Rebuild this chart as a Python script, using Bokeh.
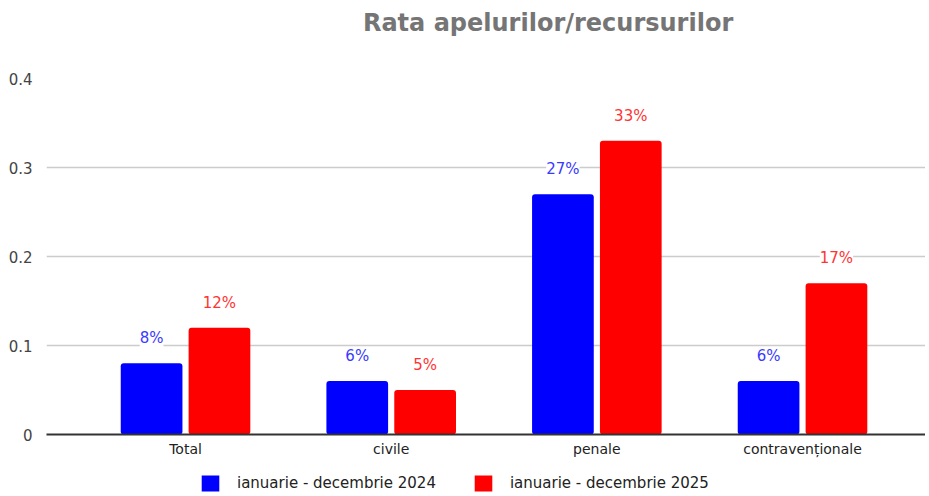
from bokeh.plotting import figure
from bokeh.models import (ColumnDataSource, Range1d, FixedTicker, LabelSet,
                          Label, Legend, LegendItem)
from bokeh.layouts import column
from bokeh.transform import dodge
from bokeh.core.properties import value
from bokeh.embed import file_html
from bokeh.resources import INLINE

title_text = "Rata apelurilor/recursurilor"
categories = ["Total", "civile", "penale", "contravenționale"]
series_names = ["ianuarie - decembrie 2024", "ianuarie - decembrie 2025"]
values_2024 = [0.08, 0.06, 0.27, 0.06]
values_2025 = [0.12, 0.05, 0.33, 0.17]
y_ticks = [0, 0.1, 0.2, 0.3, 0.4]

FONT = "DejaVu Sans"
BLUE, RED = "#0000ff", "#ff0000"
idx = [i + 0.5 for i in range(len(categories))]

src24 = ColumnDataSource(dict(x=idx, top=values_2024,
                              lbl=[f"{round(v*100)}%" for v in values_2024]))
src25 = ColumnDataSource(dict(x=idx, top=values_2025,
                              lbl=[f"{round(v*100)}%" for v in values_2025]))

def bare(fig):
    fig.min_border_left = fig.min_border_right = 0
    fig.min_border_top = fig.min_border_bottom = 0
    fig.outline_line_color = None
    fig.xgrid.grid_line_color = None
    fig.ygrid.grid_line_color = None
    return fig

# ---- header with title
head = bare(figure(width=925, height=44, output_backend="svg",
                   toolbar_location=None, x_axis_type=None, y_axis_type=None,
                   x_range=Range1d(0, 925), y_range=Range1d(0, 44)))
head.add_layout(Label(x=333, y=22, text=title_text, text_baseline="middle",
                      text_align="left", text_font=FONT,
                      text_font_size="24px", text_font_style="bold",
                      text_color="#757575"))

# ---- main chart
p = figure(frame_width=879, frame_height=356, output_backend="svg",
           toolbar_location=None,
           x_range=Range1d(-0.176, 4.098), y_range=Range1d(0, 0.4))
p.min_border_left = 46
p.min_border_right = 0
p.min_border_top = 34
p.min_border_bottom = 24
p.outline_line_color = None

r24 = p.vbar(x=dodge("x", -0.165), top="top", width=0.30, source=src24,
             fill_color=BLUE, line_color=None, border_radius=3)
r25 = p.vbar(x=dodge("x", 0.165), top="top", width=0.30, source=src25,
             fill_color=RED, line_color=None, border_radius=3)

for src, off, col in [(src24, -0.165, "#3a3aff"), (src25, 0.165, "#ff3333")]:
    p.add_layout(LabelSet(x=dodge("x", off), y="top", text="lbl", source=src,
                          y_offset=25, text_align="center",
                          text_baseline="middle", text_font=value(FONT),
                          text_font_size=value("15px"), text_color=col,
                          background_fill_color="white"))

p.xaxis.ticker = FixedTicker(ticks=idx)
p.xaxis.major_label_overrides = {x: c for x, c in zip(idx, categories)}
p.xaxis.major_tick_line_color = None
p.xaxis.minor_tick_line_color = None
p.xaxis.axis_line_color = "#333333"
p.xaxis.axis_line_width = 2
p.xaxis.major_label_text_font = FONT
p.xaxis.major_label_text_font_size = "14px"
p.xaxis.major_label_text_color = "#222222"
p.xaxis.major_label_standoff = 0

p.yaxis.ticker = FixedTicker(ticks=y_ticks)
p.yaxis.major_label_overrides = {0: "0"}
p.yaxis.axis_line_color = None
p.yaxis.major_tick_line_color = None
p.yaxis.minor_tick_line_color = None
p.yaxis.major_label_text_font = FONT
p.yaxis.major_label_text_font_size = "15px"
p.yaxis.major_label_text_color = "#444444"
p.yaxis.major_label_standoff = 8

p.xgrid.grid_line_color = None
p.ygrid.grid_line_color = "#cccccc"
p.ygrid.grid_line_width = 1.5

# ---- legend strip (swatch renderers sit outside the visible range)
leg = bare(figure(width=925, height=36, output_backend="svg",
                  toolbar_location=None, x_axis_type=None, y_axis_type=None,
                  x_range=Range1d(0, 1), y_range=Range1d(0, 1)))
l24 = leg.vbar(x=[5], top=[5], bottom=[4], width=0.1,
               fill_color=BLUE, line_color=None)
l25 = leg.vbar(x=[5], top=[5], bottom=[4], width=0.1,
               fill_color=RED, line_color=None)
legend = Legend(items=[LegendItem(label=series_names[0], renderers=[l24]),
                       LegendItem(label=series_names[1], renderers=[l25])],
                orientation="horizontal", location=(153, 2),
                padding=0, margin=0, spacing=36, label_standoff=16,
                glyph_width=22, glyph_height=20, label_height=20,
                border_line_color=None, background_fill_alpha=0,
                label_text_font=FONT, label_text_font_size="15px",
                label_text_color="#222222")
leg.add_layout(legend, "center")

layout = column(head, p, leg, spacing=0)
open("out.html", "w").write(file_html(layout, INLINE))
